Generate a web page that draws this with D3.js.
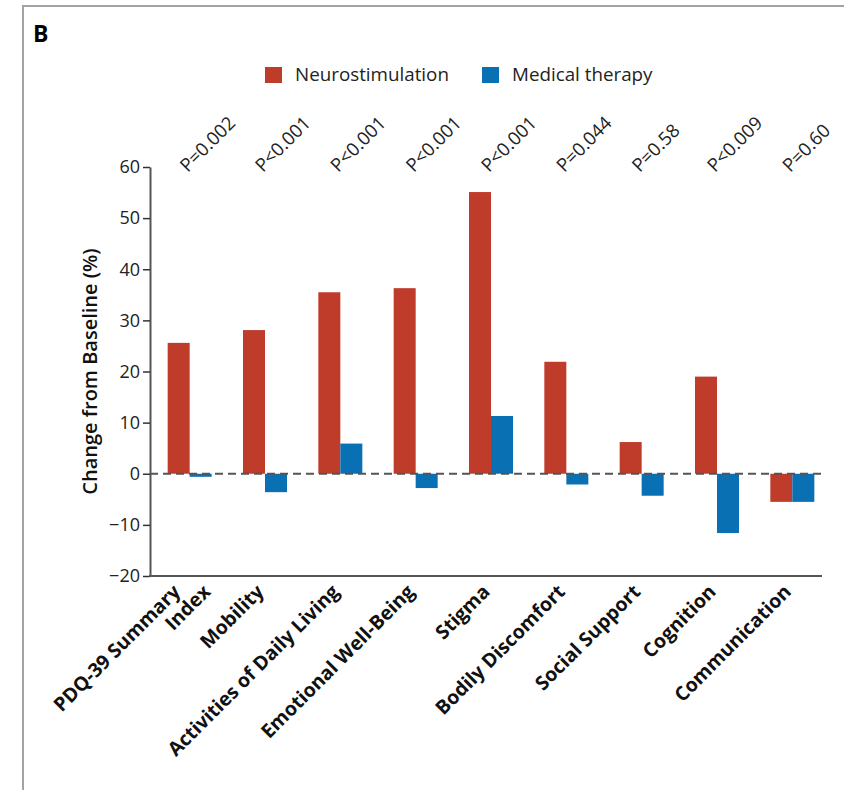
<!DOCTYPE html>
<html>
<head>
<meta charset="utf-8">
<script src="https://cdn.jsdelivr.net/npm/d3@7"></script>
<style>
  body { margin: 0; background: #fff; }
  text { font-family: "Open Sans", sans-serif; }
</style>
</head>
<body>
<div id="chart"></div>
<script>
const categories = ["PDQ-39 Summary Index", "Mobility", "Activities of Daily Living", "Emotional Well-Being",
    "Stigma", "Bodily Discomfort", "Social Support", "Cognition", "Communication"];
const neurostimulation = [25.6, 28.1, 35.5, 36.3, 55.1, 21.9, 6.2, 19.0, -5.5];
const medicalTherapy = [-0.6, -3.6, 5.9, -2.8, 11.3, -2.1, -4.3, -11.6, -5.5];
const pValues = ["P=0.002", "P<0.001", "P<0.001", "P<0.001", "P<0.001", "P=0.044", "P=0.58", "P<0.009", "P=0.60"];
const yTicks = [-20, -10, 0, 10, 20, 30, 40, 50, 60];
const series = ["Neurostimulation", "Medical therapy"];
const colors = ["#bf3b2a", "#0a70b4"];

const width = 844;
const height = 790;

const svg = d3.select("#chart")
    .append("svg")
    .attr("width", width)
    .attr("height", height);

// panel frame
svg.append("path")
    .attr("d", "M23,790 V6 H844")
    .attr("fill", "none")
    .attr("stroke", "#a3a3a3")
    .attr("stroke-width", 2);

svg.append("text")
    .attr("x", 33)
    .attr("y", 42)
    .attr("font-size", 23)
    .attr("font-weight", "bold")
    .text("B");

// legend
const legend = svg.append("g").attr("transform", "translate(265, 67)");
const legendX = [0, 217];
series.forEach((s, i) => {
    legend.append("rect")
        .attr("x", legendX[i])
        .attr("y", 0)
        .attr("width", 17)
        .attr("height", 16)
        .attr("fill", colors[i]);
    legend.append("text")
        .attr("x", legendX[i] + 30)
        .attr("y", 14)
        .attr("font-size", 18.8)
        .attr("fill", "#222")
        .text(s);
});

const xScale = d3.scaleBand()
    .domain(categories)
    .range([152, 830]);

const subScale = d3.scaleBand()
    .domain(series)
    .range([-22, 22]);

const yScale = d3.scaleLinear()
    .domain([-20, 60])
    .range([576, 167]);

const cx = d => xScale(d) + xScale.bandwidth() / 2;

const rows = categories.map((c, i) => ({ cat: c, vals: [neurostimulation[i], medicalTherapy[i]] }));

// bars
rows.forEach(r => {
    r.vals.forEach((v, j) => {
        svg.append("rect")
            .attr("x", cx(r.cat) + subScale(series[j]))
            .attr("y", yScale(Math.max(0, v)))
            .attr("width", subScale.bandwidth())
            .attr("height", Math.abs(yScale(v) - yScale(0)))
            .attr("fill", colors[j]);
    });
});

// zero line
svg.append("line")
    .attr("x1", 150)
    .attr("x2", 822)
    .attr("y1", yScale(0))
    .attr("y2", yScale(0))
    .attr("stroke", "#555")
    .attr("stroke-width", 2)
    .attr("stroke-dasharray", "8,5");

// y axis
const yAxis = svg.append("g")
    .attr("transform", "translate(150, 0)")
    .call(d3.axisLeft(yScale).tickValues(yTicks).tickSize(7).tickSizeOuter(0).tickPadding(3));
yAxis.select(".domain").attr("stroke", "#555").attr("stroke-width", 2);
yAxis.selectAll(".tick line").attr("stroke", "#333").attr("stroke-width", 1.5);
yAxis.selectAll(".tick text")
    .attr("font-size", 18)
    .attr("fill", "#222")
    .style("font-family", "Open Sans");

// x axis line
svg.append("line")
    .attr("x1", 149)
    .attr("x2", 822)
    .attr("y1", yScale(-20))
    .attr("y2", yScale(-20))
    .attr("stroke", "#555")
    .attr("stroke-width", 2);

svg.append("text")
    .attr("transform", `translate(97, ${yScale(20)}) rotate(-90)`)
    .attr("text-anchor", "middle")
    .attr("font-size", 20)
    .attr("font-weight", 600)
    .attr("fill", "#111")
    .text("Change from Baseline (%)");

// category labels
categories.forEach((c, i) => {
    const lines = i === 0 ? ["PDQ-39 Summary", "Index"] : [c];
    const dx = i === 0 ? [-8, 22] : [0];
    lines.forEach((t, k) => {
        svg.append("text")
            .attr("transform", `translate(${cx(c) + dx[k]}, ${yScale(-20) + 17}) rotate(-45)`)
            .attr("text-anchor", "end")
            .attr("font-size", 19.5)
            .attr("font-weight", "bold")
            .attr("fill", "#111")
            .text(t);
    });
});

// p values
categories.forEach((c, i) => {
    svg.append("text")
        .attr("transform", `translate(${cx(c) - 2}, 173) rotate(-45)`)
        .attr("font-size", 18.5)
        .attr("fill", "#222")
        .text(pValues[i]);
});
</script>
</body>
</html>
